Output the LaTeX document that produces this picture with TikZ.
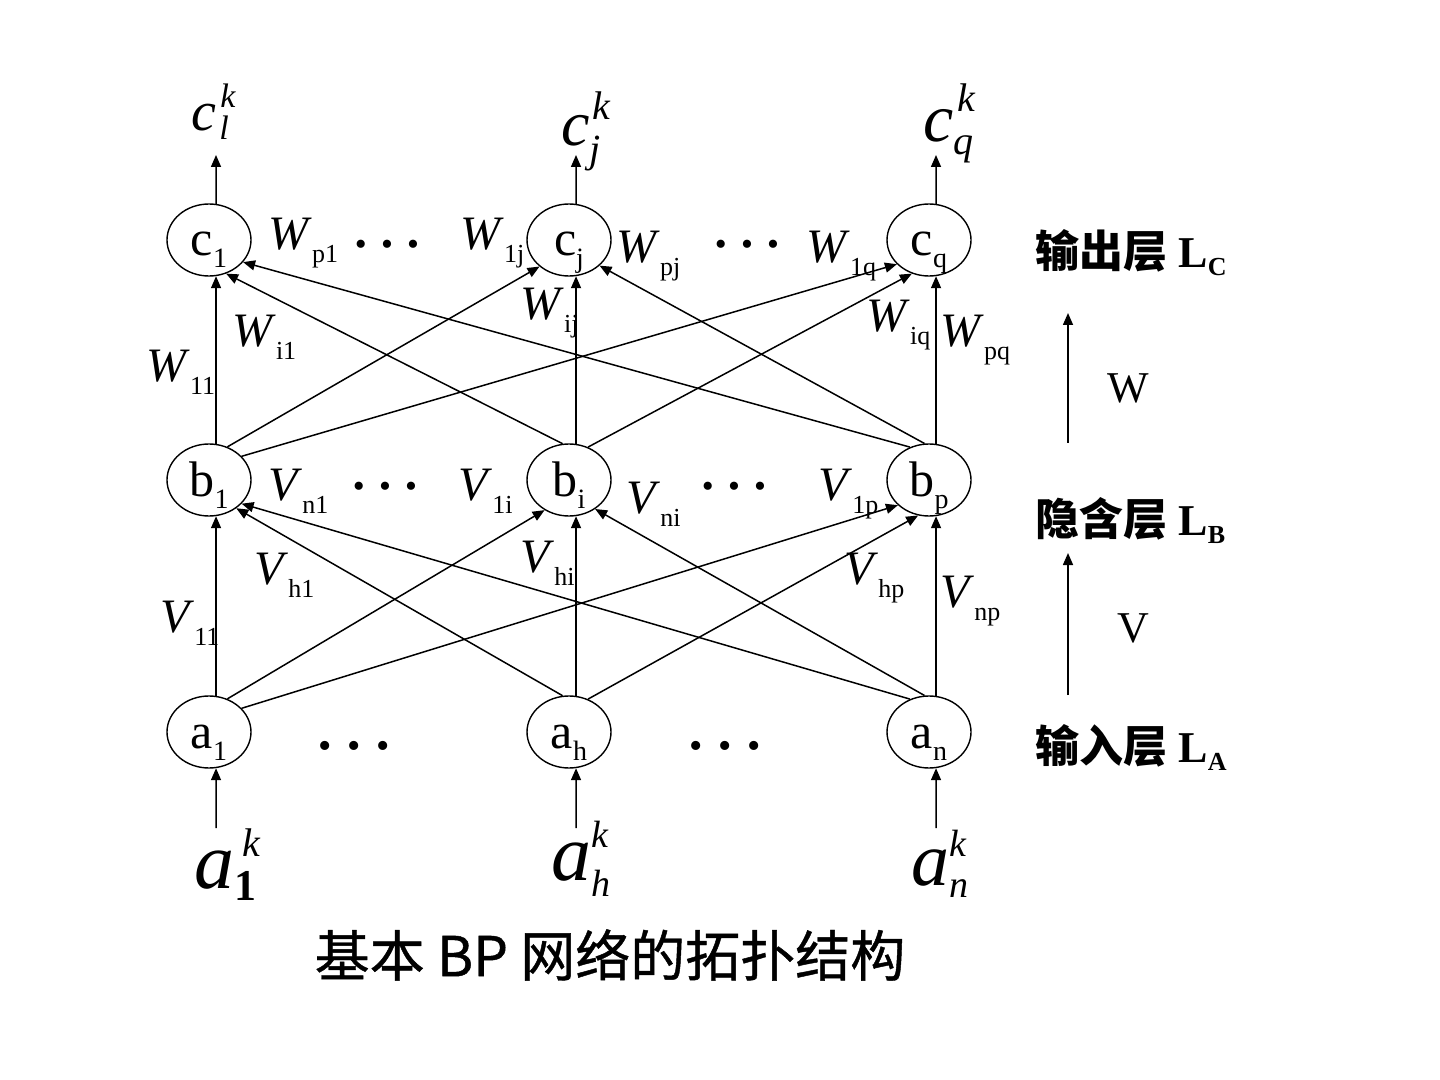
\documentclass[tikz,border=0pt]{standalone}
\usepackage{fontspec}
\setmainfont{Liberation Serif}
\newfontfamily\cjk{Noto Sans CJK SC}
\newfontfamily\cjkt{Noto Sans CJK SC}[FakeBold=0.8]
\usetikzlibrary{arrows.meta,shapes.geometric}
\newcommand\fs[1]{\fontsize{#1}{#1}\selectfont}
\newcommand\nsub[2]{#1\smash{\raisebox{-6pt}{\fs{14pt}#2}}}
\newcommand\wv[2]{\textit{#1}\raisebox{-6.5pt}{\fs{13pt}#2}}
\newcommand\lsub[2]{\textbf{#1\raisebox{-4pt}{\fs{13pt}#2}}}
\newcommand\threedots{\textbullet\hspace{0.42em}\textbullet\hspace{0.42em}\textbullet}
\begin{document}
\begin{tikzpicture}[x=0.5pt,y=-0.5pt,
  neuron/.style={draw,ellipse,line width=0.7pt,minimum width=42pt,minimum height=36pt,inner sep=0pt,font=\fs{25pt},text height=16pt,text depth=0pt},
  conn/.style={line width=0.75pt,-{Triangle[length=6pt,width=5pt]}},
  wlab/.style={anchor=base west,inner sep=0pt,font=\fs{24pt}},
  dotsA/.style={anchor=center,inner sep=0pt,font=\fs{17pt}},
  layer/.style={anchor=base west,inner sep=0pt,font=\fs{22pt}},
  top/.style={anchor=base west,inner sep=0pt,font=\itshape}]
\useasboundingbox (0,0) rectangle (1440,1080);

% neurons
\node[neuron] (c1) at (209,240) {\nsub{c}{1}};
\node[neuron] (cj) at (569,240) {\nsub{c}{j}};
\node[neuron] (cq) at (929,240) {\nsub{c}{q}};
\node[neuron] (b1) at (209,480) {\nsub{b}{1}};
\node[neuron] (bi) at (569,480) {\nsub{b}{i}};
\node[neuron] (bp) at (929,480) {\nsub{b}{p}};
\node[neuron] (a1) at (209,732) {\nsub{a}{1}};
\node[neuron] (ah) at (569,732) {\nsub{a}{h}};
\node[neuron] (an) at (929,732) {\nsub{a}{n}};

% outputs / inputs labels
\node[top] (oc1) at (191,131) {\fs{28pt}c\rlap{\kern2pt\raisebox{11.5pt}{\fs{17pt}k}}\kern1.5pt\raisebox{-4.5pt}{\fs{17pt}l}};
\node[top] (ocj) at (561,146) {\fs{32pt}c\rlap{\kern1.5pt\raisebox{13pt}{\fs{20pt}k}}\raisebox{-8.5pt}{\fs{20pt}j}};
\node[top] (ocq) at (923,142) {\fs{34pt}c\rlap{\kern2pt\raisebox{15pt}{\fs{20pt}k}}\raisebox{-6.5pt}{\fs{20pt}q}};
\node[top] (ia1) at (194,888) {\fs{40pt}a\rlap{\kern4pt\raisebox{16pt}{\fs{20pt}k}}\raisebox{-6pt}{\fs{22pt}\upshape\bfseries 1}};
\node[top] (iah) at (551,880) {\fs{40pt}a\rlap{\raisebox{16.5pt}{\fs{19pt}k}}\raisebox{-8pt}{\fs{19pt}h}};
\node[top] (ian) at (911,885) {\fs{38pt}a\rlap{\raisebox{14.5pt}{\fs{19pt}k}}\raisebox{-6pt}{\fs{19pt}n}};

\coordinate (t1) at (216,155);
\coordinate (tj) at (576,155);
\coordinate (tq) at (936,155);
\coordinate (s1) at (216,828);
\coordinate (sh) at (576,828);
\coordinate (sn) at (936,828);

\draw[conn] (c1.79) -- (t1);
\draw[conn] (cj.79) -- (tj);
\draw[conn] (cq.79) -- (tq);
\draw[conn] (s1) -- (a1.-79);
\draw[conn] (sh) -- (ah.-79);
\draw[conn] (sn) -- (an.-79);

% W connections
\draw[conn] (b1.79) -- (c1.-79);
\draw[conn] (bi.79) -- (cj.-79);
\draw[conn] (bp.79) -- (cq.-79);
\draw[conn] (b1.61) -- (cj.-138);
\draw[conn] (b1.36) -- (cq.-143);
\draw[conn] (bi.100) -- (c1.-63);
\draw[conn] (bi.60) -- (cq.-117);
\draw[conn] (bp.120) -- (c1.-33);
\draw[conn] (bp.97) -- (cj.-40);

% V connections
\draw[conn] (a1.79) -- (b1.-79);
\draw[conn] (ah.79) -- (bi.-79);
\draw[conn] (an.79) -- (bp.-79);
\draw[conn] (a1.61) -- (bi.-129);
\draw[conn] (a1.36) -- (bp.-141);
\draw[conn] (ah.100) -- (b1.-46);
\draw[conn] (ah.60) -- (bp.-107);
\draw[conn] (an.120) -- (b1.-36);
\draw[conn] (an.97) -- (bi.-48);

% weight labels
\node[wlab] (wp1) at (268,250) {\wv{W}{p1}};
\node[wlab] (w1j) at (460,250) {\wv{W}{1j}};
\node[wlab] (wpj) at (616,263) {\wv{W}{pj}};
\node[wlab] (w1q) at (806,263) {\wv{W}{1q}};
\node[wlab] (wij) at (520,320) {\wv{W}{ij}};
\node[wlab] (wi1) at (232,347) {\wv{W}{i1}};
\node[wlab] (w11) at (146,382) {\wv{W}{11}};
\node[wlab] (wiq) at (866,332) {\wv{W}{iq}};
\node[wlab] (wpq) at (940,347) {\wv{W}{pq}};
\node[wlab] (vn1) at (268,500) {\wv{V}{n1}};
\node[wlab] (v1i) at (458,500) {\wv{V}{1i}};
\node[wlab] (vni) at (626,513) {\wv{V}{ni}};
\node[wlab] (v1p) at (818,500) {\wv{V}{1p}};
\node[wlab] (vh1) at (254,584) {\wv{V}{h1}};
\node[wlab] (vhi) at (520,572) {\wv{V}{hi}};
\node[wlab] (vhp) at (844,584) {\wv{V}{hp}};
\node[wlab] (vnp) at (940,607) {\wv{V}{np}};
\node[wlab] (v11) at (160,632) {\wv{V}{11}};

% dots
\node[dotsA] (d1) at (387,248) {\threedots};
\node[dotsA] (d2) at (747,248) {\threedots};
\node[dotsA] (d3) at (385,490) {\threedots};
\node[dotsA] (d4) at (734,490) {\threedots};
\node[dotsA,font=\fs{19pt}] (d5) at (354,750) {\threedots};
\node[dotsA,font=\fs{19pt}] (d6) at (725,750) {\threedots};

% layer labels
\node[layer] (lc) at (1035,268) {{\cjk\bfseries 输出层} \lsub{L}{C}};
\node[layer] (lb) at (1035,535) {{\cjk\bfseries 隐含层} \lsub{L}{B}};
\node[layer] (la) at (1035,762) {{\cjk\bfseries 输入层} \lsub{L}{A}};
\node[font=\fs{22pt},inner sep=0pt] (wl) at (1128,388) {W};
\node[font=\fs{22pt},inner sep=0pt] (vl) at (1133,628) {V};
\coordinate (wa0) at (1068,443);
\coordinate (wa1) at (1068,313);
\coordinate (va0) at (1068,695);
\coordinate (va1) at (1068,553);
\draw[conn] (wa0) -- (wa1);
\draw[conn] (va0) -- (va1);

% title
\node[font=\cjkt\fs{27.5pt},inner sep=0pt] (title) at (610,955) {基本 BP 网络的拓扑结构};
\end{tikzpicture}
\end{document}
